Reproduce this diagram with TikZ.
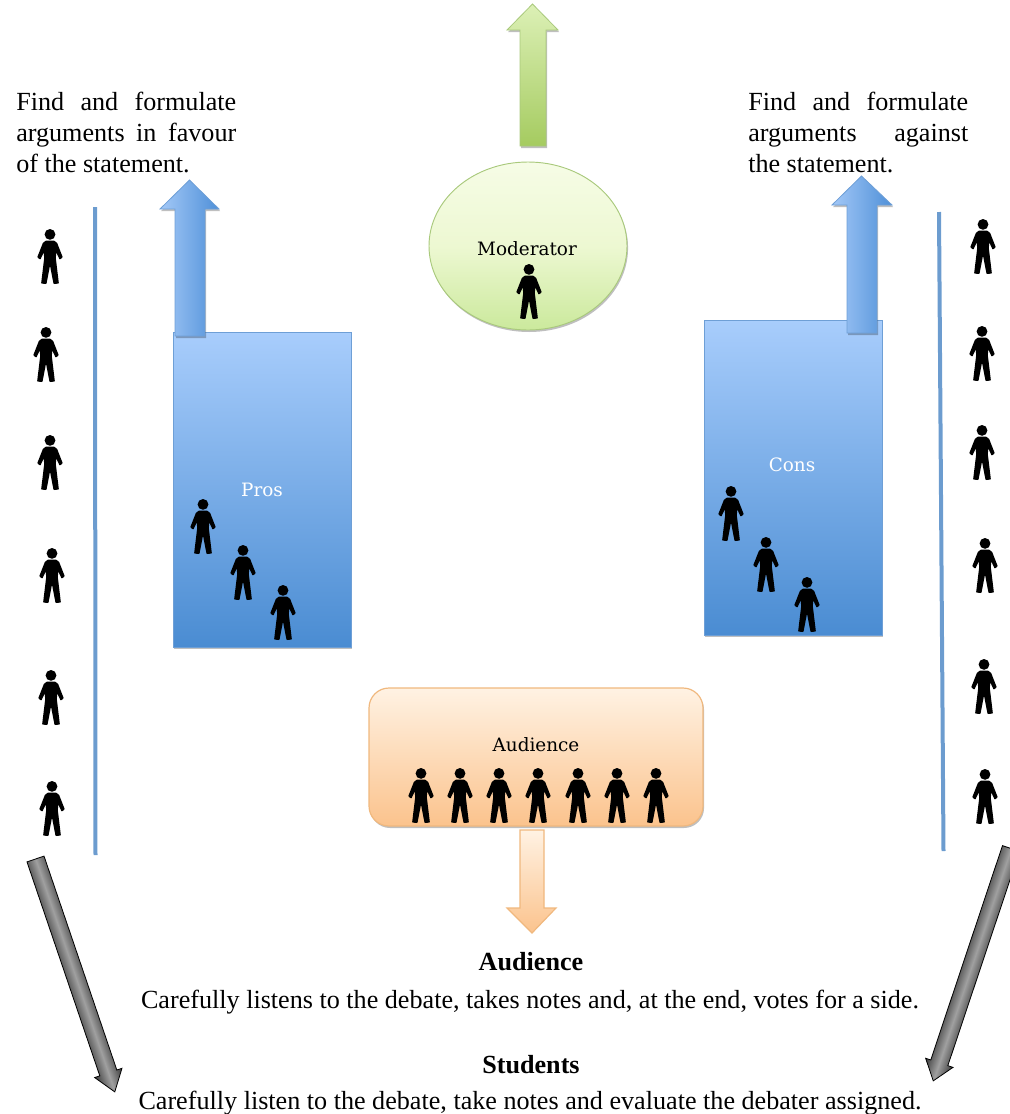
\documentclass[tikz,border=0pt]{standalone}
\usepackage{fontspec}
\setmainfont{Liberation Serif}
\newfontfamily\labelfont{DejaVu Serif}
\usetikzlibrary{shadows}
\definecolor{boxtop}{HTML}{A8CDFC}
\definecolor{boxbot}{HTML}{4A8CD2}
\definecolor{boxedge}{HTML}{6E9FD6}
\definecolor{arrowl}{HTML}{A3C8F7}
\definecolor{arrowr}{HTML}{4F90D8}
\definecolor{linecol}{HTML}{6C9CCF}
\definecolor{greentop}{HTML}{F6FCE6}
\definecolor{greenmid}{HTML}{EDF8D2}
\definecolor{greenbot}{HTML}{CBE99C}
\definecolor{greenedge}{HTML}{A9C97C}
\definecolor{garrowtop}{HTML}{DCF0B6}
\definecolor{garrowbot}{HTML}{A5CB60}
\definecolor{orangetop}{HTML}{FFF2E3}
\definecolor{orangebot}{HTML}{FBC38D}
\definecolor{orangeedge}{HTML}{F0B87E}
\definecolor{grayedge}{HTML}{3A3A3A}
\definecolor{graymid}{HTML}{A0A0A0}
\tikzset{
  softshadow/.style={drop shadow={shadow xshift=0.8pt,shadow yshift=-1.5pt,opacity=0.25,fill=black}},
  bluebox/.style={draw=boxedge,line width=0.7pt,top color=boxtop,bottom color=boxbot,softshadow},
  bluearrow/.style={draw=boxedge,line width=0.6pt,left color=arrowl,right color=arrowr,softshadow},
  sideline/.style={draw=linecol,line width=3pt},
  grayarrow/.style={draw=black,line width=0.6pt,top color=grayedge,bottom color=grayedge,middle color=graymid},
  bodytext/.style={font=\fontsize{19.6pt}{23.25pt}\selectfont,inner sep=0pt},
  bodyhead/.style={font=\fontsize{19.6pt}{23.25pt}\selectfont\bfseries,inner sep=0pt},
  diagramlabel/.style={font=\labelfont\fontsize{13.8pt}{15pt}\selectfont,inner sep=0pt},
  person/.pic={
    \fill[black] (0,5.4) circle (5.4);
    \filldraw[black,line width=1.2pt,line join=round] (-4,12.5)--(4,12.5)--(6.5,14.5)--(11.8,28)--(10,29.5)--(5.8,20.5)--(5,29)
      --(8,53.8)--(4.2,54.2)--(0.5,35)--(-0.5,35)--(-4.2,54.2)--(-8,53.8)--(-5,29)--(-5.8,20.5)
      --(-10,29.5)--(-11.8,28)--(-6.5,14.5)--cycle;
  }
}
\begin{document}
\begin{tikzpicture}[x=0.75pt,y=-0.75pt]
\useasboundingbox (0,0) rectangle (1010,1114);
\clip (0,0) rectangle (1010,1114);

% boxes
\path[bluebox] (173,332) rectangle (351,647);
\path[bluebox] (704,320) rectangle (882,635);
\path[draw=greenedge,line width=0.7pt,top color=greentop,bottom color=greenbot,middle color=greenmid,softshadow]
  (528,246) ellipse (99 and 84);
\path[draw=orangeedge,line width=0.9pt,top color=orangetop,bottom color=orangebot,softshadow,rounded corners=15pt]
  (369,688) rectangle (703,826);

% block arrows
\path[bluearrow] (189.5,180)--(219,209)--(205,209)--(205,336)--(175,336)--(175,209)--(160,209)--cycle;
\path[bluearrow] (861.5,176)--(892,205)--(877,205)--(877,333)--(847,333)--(847,205)--(832,205)--cycle;
\path[draw=greenedge,line width=0.6pt,top color=garrowtop,bottom color=garrowbot,softshadow]
  (532.5,4)--(558,30)--(546,30)--(546,146)--(520,146)--(520,30)--(507,30)--cycle;
\path[draw=orangeedge,line width=0.9pt,top color=orangetop,bottom color=orangebot]
  (520,830)--(544,830)--(544,908)--(556,908)--(532,933)--(507,908)--(520,908)--cycle;

% separating lines
\path[sideline] (95,207)--(95.5,855);
\path[sideline] (939,212)--(943.5,851);

% gray arrows
\path[grayarrow,transform canvas={shift={(35.5,859)},rotate=-71.2}]
  (0,-9)--(226,-9)--(226,-14.4)--(246,0)--(226,14.4)--(226,9)--(0,9)--cycle;
\path[grayarrow,transform canvas={shift={(1011,848.5)},rotate=-108.5}]
  (0,-9)--(226,-9)--(226,-14.4)--(245,0)--(226,14.4)--(226,9)--(0,9)--cycle;

% people
\foreach \px/\py [count=\i] in {50/229,46/327,50/435,52/548,51/670,52/781,
  983/219,982/326,982/425,985/538,984/659,985/769,
  203/499,243/545,283/585,731/486,766/537,807/577,529/264,
  421/768,460/768,499/768,538/768,578/768,617/768,656/768}
  \pic (person\i) at (\px,\py) {person};

% labels
\node[diagramlabel] (moderator) at (527,249) {Moderator};
\node[diagramlabel,text=white] (pros) at (262,490) {Pros};
\node[diagramlabel,text=white] (cons) at (792,465) {Cons};
\node[diagramlabel] (audience) at (536,745) {Audience};

\node[bodytext,anchor=north west,align=left] (leftnote) at (16,91.5)
  {\makebox[165pt][s]{Find and formulate}\\ \makebox[165pt][s]{arguments in favour}\\ of the statement.};
\node[bodytext,anchor=north west,align=left] (rightnote) at (748,91.5)
  {\makebox[165pt][s]{Find and formulate}\\ \makebox[165pt][s]{arguments against}\\ the statement.};

\node[bodyhead] (audhead) at (531,962) {Audience};
\node[bodytext] (audtext) at (530,1002) {Carefully listens to the debate, takes notes and, at the end, votes for a side.};
\node[bodyhead] (stuhead) at (531,1065) {Students};
\node[bodytext] (stutext) at (530,1103) {Carefully listen to the debate, take notes and evaluate the debater assigned.};
\end{tikzpicture}
\end{document}
